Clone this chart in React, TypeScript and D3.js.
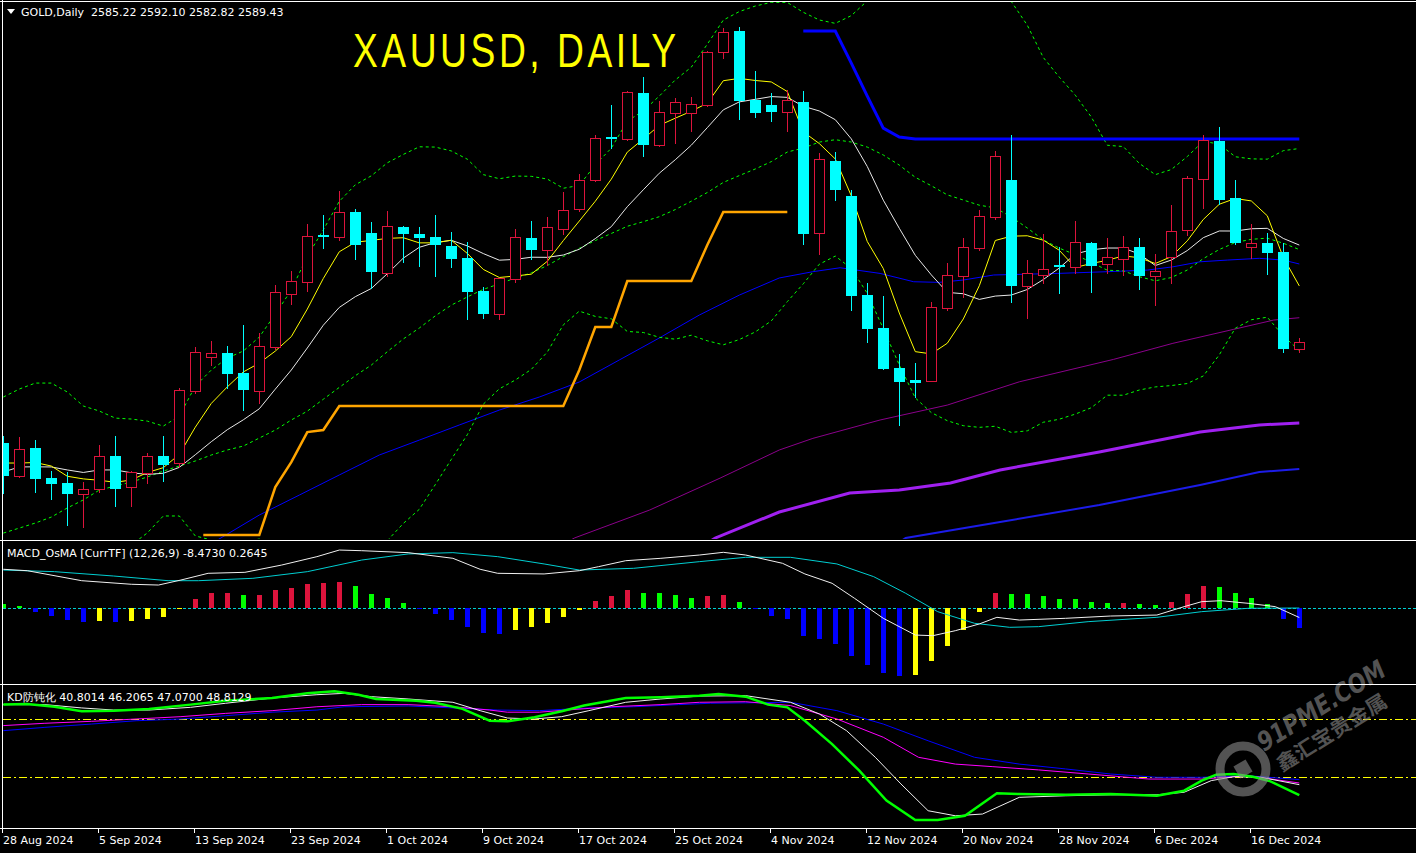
import React from "react";
import * as d3 from "d3";

// ---------- DATA ----------
const opens = [2524.9, 2504.3, 2522.0, 2502.9, 2499.7, 2492.9, 2495.7, 2516.9, 2496.9, 2506.2, 2516.9, 2512.2, 2558.4, 2579.7, 2582.4, 2569.7, 2558.4, 2586.4, 2620.2, 2627.8, 2657.5, 2656.4, 2672.2, 2658.8, 2633.5, 2662.6, 2658.2, 2656.1, 2650.5, 2642.9, 2621.9, 2607.1, 2629.3, 2655.6, 2647.8, 2661.5, 2673.9, 2692.3, 2719.9, 2718.4, 2747.9, 2715.0, 2735.0, 2735.0, 2740.5, 2773.8, 2787.4, 2743.6, 2740.3, 2736.0, 2742.2, 2659.1, 2704.6, 2682.4, 2619.3, 2598.3, 2572.9, 2565.2, 2564.8, 2611.3, 2631.6, 2649.4, 2669.2, 2692.3, 2625.3, 2632.3, 2638.4, 2637.4, 2652.2, 2639.3, 2642.4, 2649.7, 2631.6, 2643.7, 2660.5, 2693.4, 2717.4, 2680.9, 2650.1, 2652.2, 2646.5, 2585.22];
const highs = [2529.6, 2528.8, 2527.0, 2507.3, 2506.9, 2500.3, 2523.9, 2529.6, 2507.1, 2518.8, 2529.6, 2560.0, 2586.2, 2590.1, 2586.9, 2600.2, 2595.0, 2625.7, 2634.6, 2664.5, 2670.3, 2685.5, 2674.1, 2665.8, 2672.8, 2663.3, 2662.6, 2670.3, 2659.2, 2652.9, 2624.4, 2630.0, 2661.3, 2666.4, 2669.0, 2684.9, 2696.4, 2721.2, 2740.3, 2749.2, 2758.1, 2742.8, 2744.7, 2745.2, 2774.6, 2789.1, 2790.1, 2761.9, 2747.9, 2749.8, 2749.2, 2709.7, 2710.4, 2686.2, 2627.0, 2618.7, 2581.8, 2576.0, 2614.9, 2639.7, 2655.6, 2673.4, 2711.0, 2721.2, 2641.6, 2658.0, 2649.7, 2666.4, 2653.1, 2655.6, 2656.9, 2655.6, 2645.4, 2676.6, 2695.1, 2721.2, 2726.3, 2692.5, 2664.3, 2658.6, 2652.2, 2592.10];
const lows = [2493.5, 2503.7, 2493.9, 2489.5, 2473.1, 2471.9, 2493.9, 2485.2, 2485.2, 2499.9, 2501.1, 2510.1, 2556.8, 2575.0, 2560.3, 2546.1, 2550.8, 2584.8, 2613.8, 2622.1, 2649.4, 2654.3, 2642.3, 2623.6, 2631.4, 2640.5, 2637.8, 2631.6, 2637.4, 2604.3, 2604.9, 2604.3, 2627.8, 2642.4, 2638.2, 2658.4, 2672.6, 2691.7, 2712.9, 2718.0, 2708.0, 2714.4, 2716.3, 2723.9, 2739.6, 2770.4, 2731.5, 2732.6, 2730.3, 2723.9, 2651.8, 2645.4, 2679.8, 2609.8, 2589.4, 2572.4, 2536.8, 2554.2, 2564.8, 2609.8, 2618.3, 2648.2, 2667.9, 2615.1, 2604.9, 2626.8, 2620.8, 2633.5, 2621.4, 2633.5, 2632.3, 2623.3, 2613.2, 2627.2, 2657.5, 2674.9, 2677.0, 2651.8, 2643.1, 2632.7, 2583.2, 2582.82];
const closes = [2504.3, 2521.1, 2502.4, 2499.2, 2492.9, 2495.9, 2516.7, 2496.0, 2506.5, 2516.7, 2511.3, 2558.7, 2582.9, 2582.2, 2569.2, 2558.9, 2586.9, 2621.1, 2628.2, 2656.9, 2656.3, 2672.0, 2651.2, 2634.2, 2663.3, 2658.4, 2655.6, 2651.4, 2642.4, 2621.4, 2607.4, 2630.0, 2656.1, 2648.2, 2662.4, 2673.2, 2692.3, 2719.1, 2718.6, 2748.4, 2715.0, 2735.6, 2742.0, 2740.7, 2774.0, 2786.5, 2743.0, 2735.4, 2736.0, 2743.5, 2658.2, 2705.7, 2686.4, 2618.7, 2597.9, 2572.4, 2564.0, 2563.5, 2611.5, 2631.9, 2649.7, 2669.6, 2707.6, 2625.3, 2633.1, 2635.7, 2637.4, 2652.9, 2638.0, 2643.3, 2649.7, 2631.6, 2634.4, 2659.9, 2693.6, 2717.8, 2680.0, 2652.6, 2652.2, 2646.3, 2585.2, 2589.43];

const tickBars = [0, 6, 12, 18, 24, 30, 36, 42, 48, 54, 60, 66, 72, 78];
const tickLabels = ["28 Aug 2024", "5 Sep 2024", "13 Sep 2024", "23 Sep 2024", "1 Oct 2024", "9 Oct 2024", "17 Oct 2024", "25 Oct 2024", "4 Nov 2024", "12 Nov 2024", "20 Nov 2024", "28 Nov 2024", "6 Dec 2024", "16 Dec 2024"];

// visible start of the moving averages / bands (before their windows fill)
const sma5Early = [2512.4, 2512.4, 2512.7, 2510.5];
const sma10Early = [2506.7, 2509.9, 2510.0, 2509.9, 2508.0, 2506.4, 2508.0, 2508.0, 2506.2];
const bbUpperEarly = [2554.4, 2559.5, 2563.3, 2563.3, 2557.6, 2548.7, 2545.5, 2541.0, 2540.4, 2539.1, 2535.9, 2542.3, 2561.4, 2571.6, 2579.2, 2583.7, 2592.6, 2607.2, 2622.5];
const bbMidEarly = [2467.8, 2471.0, 2474.2, 2478.0, 2483.8, 2488.9, 2495.2, 2497.8, 2500.3, 2503.5, 2507.3, 2510.5, 2513.7, 2517.5, 2520.7, 2523.2, 2528.3, 2533.4, 2539.8];

// long moving averages [bar, price]
const maBlueThin: [number, number][] = [[12, 2455], [16, 2479.3], [18.5, 2492.0], [21, 2504.8], [23.5, 2517.5], [26, 2527.0], [28.5, 2536.6], [31, 2546.1], [33.5, 2554.4], [36, 2564.0], [38.5, 2578.0], [41, 2592.0], [43.5, 2606.6], [46, 2619.3], [48.5, 2630.2], [50.6, 2634.2], [52.3, 2636.7], [54.8, 2633.1], [56.9, 2627.8], [58.5, 2627.4], [60, 2628.9], [61.9, 2632.1], [65.9, 2633.1], [69, 2634.2], [71.5, 2635.2], [73.1, 2637.3], [74.8, 2640.5], [76.5, 2641.6], [78.5, 2642.7], [80, 2641.6], [81, 2639.1]];
const maPurpleThin: [number, number][] = [[34.5, 2458], [35.7, 2464.7], [40.4, 2482.5], [44.8, 2502.8], [48.5, 2520.7], [50.6, 2528.1], [54.8, 2539.8], [59, 2549.3], [63.5, 2564.1], [69.4, 2578.4], [73.1, 2588.6], [76.9, 2597.5], [79.4, 2603.4], [81, 2604.9]];
const maPurpleThick: [number, number][] = [[43.5, 2458], [44.5, 2464.7], [48.5, 2481.2], [52.9, 2493.3], [56, 2495.2], [59.2, 2499.7], [62.3, 2508.0], [68.5, 2519.4], [74.8, 2532.1], [78.5, 2536.6], [81, 2537.9]];
const maBlueThick: [number, number][] = [[55.4, 2458], [56.4, 2464.7], [62.3, 2474.8], [68.5, 2485.7], [74.8, 2498.4], [78.5, 2506.7], [81, 2508.6]];

// stop lines [bar, price]
const stopOrange: [number, number][] = [[12.5, 2466.6], [16, 2466.6], [17, 2497.1], [18, 2513.0], [19, 2532.1], [20, 2533.4], [21, 2548.7], [35, 2548.7], [36, 2571.6], [37, 2599.0], [38, 2599.0], [39, 2628.2], [43, 2628.2], [44, 2651.2], [45, 2672.2], [49, 2672.2]];
const stopBlue: [number, number][] = [[50, 2787.4], [52, 2787.4], [53, 2767.0], [54, 2746.0], [55, 2725.6], [56, 2719.9], [57, 2718.6], [81, 2718.6]];

// MACD_OsMA panel
const osma = [4.0, 2.1, -3.0, -6.7, -10.4, -12.2, -11.3, -12.2, -11.3, -9.8, -7.6, -0.5, 8.6, 14.4, 14.5, 12.2, 12.4, 16.8, 18.7, 22.7, 23.6, 24.6, 20.5, 13.5, 9.5, 5.2, -0.3, -4.9, -10.4, -16.8, -22.7, -23.3, -20.0, -16.8, -13.2, -7.6, -1.2, 6.7, 11.3, 16.8, 14.1, 14.0, 12.2, 9.5, 11.3, 12.2, 5.8, -0.9, -6.7, -9.8, -25.1, -28.2, -32.5, -43.5, -52.2, -59.2, -61.9, -61.0, -48.1, -34.3, -20.0, -3.0, 14.1, 13.2, 13.1, 11.3, 8.6, 8.5, 5.8, 4.9, 5.0, 4.0, 3.0, 5.8, 13.2, 20.5, 19.6, 14.1, 9.5, 4.0, -9.8, -17.8];
const macdMain: [number, number][] = [[0, 35.9], [1.5, 34.6], [4.9, 25.4], [8, 22.1], [9.7, 21.4], [11.1, 26.0], [12.8, 32.2], [15.1, 33.1], [17.4, 39.8], [19.6, 47.5], [21, 53.6], [22.4, 53.0], [25.3, 51.2], [28.1, 46.0], [29.8, 35.9], [30.9, 32.2], [33.8, 31.6], [36, 34.6], [37.2, 38.3], [38.9, 43.8], [41.1, 46.0], [43.5, 49.0], [45, 51.5], [46.4, 49.0], [48.7, 41.4], [50.1, 31.6], [51.8, 23.0], [53.2, 9.2], [55, -9.2], [57, -24.6], [58.1, -25.2], [59.5, -20.6], [61, -14.4], [62.1, -8.3], [63.5, -10.8], [66.4, -9.2], [69.2, -7.1], [72.1, -6.2], [73.8, 1.5], [74.9, 6.1], [76.1, 7.0], [77.8, 4.6], [79.5, 1.5], [81, -8.47]];
const macdSignal: [number, number][] = [[0, 35.2], [3.2, 33.7], [6.9, 29.7], [10.3, 25.4], [12.2, 25.4], [15.6, 27.6], [19, 33.7], [22.4, 44.4], [25.3, 50.0], [28.1, 51.2], [30.9, 47.5], [33.8, 40.8], [36, 35.2], [39.4, 36.8], [43.5, 42.9], [46.4, 46.9], [49.2, 46.9], [52.1, 40.8], [54.4, 29.1], [56.4, 13.8], [58.4, -3.1], [60.7, -13.8], [62.9, -17.5], [64.7, -16.9], [67.8, -12.3], [72.1, -8.3], [74.9, -3.1], [77.8, 0], [81, 0.26]];

// KD panel
const kdGreen: [number, number][] = [[0, 87.4], [1.5, 87.7], [3.2, 86.3], [4.9, 84.0], [6.9, 84.3], [9.1, 85.2], [11.7, 87.4], [13.9, 89.4], [16.8, 90.8], [19, 93.2], [20.7, 94.3], [22.2, 92.5], [23.3, 90.3], [25.8, 89.4], [27, 88.4], [28.7, 85.2], [30.4, 79.1], [31.5, 78.8], [33.2, 80.9], [34.9, 84.0], [36.3, 86.9], [38.9, 90.8], [41.1, 91.2], [43.5, 92.0], [44.7, 92.9], [46.4, 91.5], [47.8, 87.4], [49, 86.0], [50.1, 79.1], [51.8, 67.1], [53.5, 53.4], [55.2, 38.0], [57, 28.0], [58.4, 28.0], [60.1, 30.2], [62.1, 41.8], [63.5, 41.4], [66.4, 41.0], [69.2, 41.4], [72.1, 40.5], [73.8, 43.1], [74.9, 48.3], [75.8, 51.3], [76.9, 51.7], [78.1, 50.3], [79.2, 47.9], [81, 40.8]];
const kdWhite: [number, number][] = [[0, 87.4], [2.6, 87.4], [4.9, 85.7], [6.9, 84.6], [9.1, 84.6], [11.7, 86.0], [13.9, 88.1], [16.8, 90.8], [19.6, 92.5], [21.3, 93.2], [23, 91.5], [25.3, 90.3], [28.1, 88.6], [29.8, 84.3], [31.5, 80.5], [33.2, 80.0], [34.9, 81.2], [36.6, 84.3], [38.9, 88.6], [41.1, 90.3], [43.5, 91.8], [46.4, 92.0], [49.2, 88.6], [51, 82.6], [52.7, 74.0], [54.5, 60.3], [56.1, 46.6], [57.8, 32.8], [59.5, 30.2], [61.2, 31.1], [63.5, 39.7], [66.4, 40.5], [69.2, 41.0], [72.1, 41.0], [73.8, 42.3], [75.5, 48.3], [76.9, 50.3], [78.6, 50.0], [81, 46.2]];
const kdMagenta: [number, number][] = [[0, 76.6], [2.6, 77.8], [5.5, 78.8], [8.3, 80.0], [11.1, 81.2], [13.9, 82.9], [16.8, 84.3], [19.6, 86.3], [22.4, 87.4], [25.3, 87.4], [28.1, 86.3], [30.4, 84.6], [31.5, 83.5], [33.5, 83.5], [35.2, 84.6], [38, 86.3], [41.1, 87.4], [43.5, 88.6], [46.4, 88.9], [49.2, 86.9], [52.1, 80.0], [55, 70.6], [57.2, 60.3], [59.5, 56.8], [61.8, 55.5], [64.7, 53.8], [67.8, 51.7], [71.6, 49.1], [74.9, 49.1], [77.8, 50.8], [81, 47.07]];
const kdBlue: [number, number][] = [[0, 74.0], [2.6, 75.7], [5.5, 77.4], [8.3, 79.1], [11.1, 80.0], [13.9, 81.7], [16.8, 83.5], [19.6, 84.6], [21.3, 86.3], [25.3, 86.7], [28.1, 85.7], [30.9, 84.6], [33.5, 84.3], [36.6, 85.7], [39.4, 86.3], [42.2, 87.4], [44.2, 88.1], [49.2, 88.6], [52.1, 84.3], [55, 77.4], [57.8, 68.8], [60.7, 60.3], [63.5, 56.8], [66.4, 54.3], [69.2, 51.7], [72.1, 50.0], [74.9, 50.0], [77.8, 50.8], [81, 48.81]];
const kdLevels = [80, 50];

// ---------- STYLE ----------
const W = 1416;
const H = 853;
const BULL = "#DC143C";
const BEAR = "#00FFFF";
const FONT = "'DejaVu Sans', Verdana, sans-serif";

export default function App() {
  const x = d3.scaleLinear().domain([0, 81]).range([3.3, 1299.3]);
  const yP = d3.scaleLinear().domain([2536.8, 2790.15]).range([424.7, 26.7]);
  const yM = d3.scaleLinear().domain([0, 46]).range([608.3, 558.3]);
  const yK = d3.scaleLinear().domain([50, 80]).range([777.3, 719.0]);

  const sma = (len: number, early: number[]) =>
    closes.map((_, i) => (i < early.length ? early[i] : (d3.mean(closes.slice(i - len + 1, i + 1)) as number)));
  const sma5 = sma(5, sma5Early);
  const sma10 = sma(10, sma10Early);
  const bbMid = sma(20, bbMidEarly);
  const bbUp = closes.map((_, i) => {
    if (i < bbUpperEarly.length) return bbUpperEarly[i];
    const w = closes.slice(i - 19, i + 1);
    const m = d3.mean(w) as number;
    const sd = Math.sqrt(d3.mean(w.map((v) => (v - m) * (v - m))) as number);
    return m + 2 * sd;
  });
  const bbLo = bbMid.map((m, i) => 2 * m - bbUp[i]);

  const priceLine = d3.line<[number, number]>().x((d) => x(d[0])).y((d) => yP(d[1]));
  const macdLine = d3.line<[number, number]>().x((d) => x(d[0])).y((d) => yM(d[1]));
  const kdLine = d3.line<[number, number]>().x((d) => x(d[0])).y((d) => yK(d[1]));
  const series = (arr: number[]) => arr.map((v, i) => [i, v] as [number, number]);

  const histColor = (i: number) => {
    const v = osma[i];
    const prev = i > 0 ? osma[i - 1] : v + 1;
    if (v >= 0) return v > prev ? BULL : "#00FF00";
    return v < prev ? "#0000FF" : "#FFFF00";
  };

  return (
    <svg width={W} height={H} style={{ position: "absolute", left: 0, top: 0, background: "#000" }}>
      <defs>
        <clipPath id="clipMain"><rect x={3} y={2} width={W - 3} height={537} /></clipPath>
        <clipPath id="clipMacd"><rect x={3} y={542} width={W - 3} height={141} /></clipPath>
        <clipPath id="clipKd"><rect x={3} y={686} width={W - 3} height={141} /></clipPath>
      </defs>
      <rect x={0} y={0} width={W} height={H} fill="#000" />

      {/* ---------- MAIN PANEL ---------- */}
      <g clipPath="url(#clipMain)">
        <g transform="translate(353,67) scale(0.76,1)">
          <text x={0} y={0} fill="#FFFF00" fontSize={49} fontFamily="'Liberation Sans',Arial,sans-serif" textLength={323 / 0.76} lengthAdjust="spacing">XAUUSD, DAILY</text>
        </g>

        {/* long MAs */}
        <path d={priceLine(maBlueThick) || ""} fill="none" stroke="#1C1CE8" strokeWidth={2} />
        <path d={priceLine(maPurpleThick) || ""} fill="none" stroke="#A020F0" strokeWidth={3} />
        <path d={priceLine(maPurpleThin) || ""} fill="none" stroke="#8B008B" strokeWidth={1} />
        <path d={priceLine(maBlueThin) || ""} fill="none" stroke="#0000FF" strokeWidth={1} />

        {/* Bollinger bands */}
        {[bbUp, bbMid, bbLo].map((s, k) => (
          <path key={k} d={priceLine(series(s)) || ""} fill="none" stroke="#00FF00" strokeWidth={1} strokeDasharray="3,3" />
        ))}

        {/* stop lines */}
        <path d={priceLine(stopOrange) || ""} fill="none" stroke="#FFA500" strokeWidth={2.5} />
        <path d={priceLine(stopBlue) || ""} fill="none" stroke="#0000FF" strokeWidth={3} />

        {/* short MAs */}
        <path d={priceLine(series(sma10)) || ""} fill="none" stroke="#E8E8E8" strokeWidth={1} />
        <path d={priceLine(series(sma5)) || ""} fill="none" stroke="#FFFF00" strokeWidth={1} />

        {/* candles */}
        {closes.map((c, i) => {
          const o = opens[i];
          const cx = Math.round(x(i));
          const yh = Math.round(yP(highs[i]));
          const yl = Math.round(yP(lows[i]));
          const yo = Math.round(yP(o));
          const yc = Math.round(yP(c));
          const bull = c >= o;
          const col = bull ? BULL : BEAR;
          const top = Math.min(yo, yc);
          const bot = Math.max(yo, yc);
          return (
            <g key={i}>
              <line x1={cx + 0.5} x2={cx + 0.5} y1={yh} y2={yl + 1} stroke={col} strokeWidth={1} />
              {bull ? (
                <rect x={cx - 4.5} y={top + 0.5} width={10} height={Math.max(bot - top, 1)} fill="#000" stroke={col} strokeWidth={1} />
              ) : (
                <rect x={cx - 5} y={top} width={11} height={Math.max(bot - top, 2)} fill={col} />
              )}
            </g>
          );
        })}
      </g>
      <polygon points="7,9 15,9 11,14" fill="#FFFFFF" />
      <text x={21} y={16} fill="#FFFFFF" fontSize={11} fontFamily={FONT} style={{ whiteSpace: "pre" }}>{"GOLD,Daily  2585.22 2592.10 2582.82 2589.43"}</text>

      {/* ---------- MACD PANEL ---------- */}
      <g clipPath="url(#clipMacd)">
        <line x1={3} x2={W} y1={608.5} y2={608.5} stroke="#00CED1" strokeWidth={1} strokeDasharray="3,2" />
        {osma.map((v, i) => {
          const cx = Math.round(x(i));
          const y0 = Math.round(yM(0));
          const y1 = Math.round(yM(v));
          return <rect key={i} x={cx - 2} y={Math.min(y0, y1)} width={5} height={Math.max(Math.abs(y1 - y0), 1)} fill={histColor(i)} />;
        })}
        <path d={macdLine(macdSignal) || ""} fill="none" stroke="#00CED1" strokeWidth={1} />
        <path d={macdLine(macdMain) || ""} fill="none" stroke="#F0F0F0" strokeWidth={1} />
      </g>
      <text x={7} y={557} fill="#FFFFFF" fontSize={11} fontFamily={FONT}>MACD_OsMA [CurrTF] (12,26,9) -8.4730 0.2645</text>

      {/* ---------- KD PANEL ---------- */}
      <g clipPath="url(#clipKd)">
        {kdLevels.map((lv) => (
          <line key={lv} x1={3} x2={W} y1={Math.round(yK(lv)) + 0.5} y2={Math.round(yK(lv)) + 0.5} stroke="#FFFF00" strokeWidth={1} strokeDasharray="8,3,2,3" />
        ))}
        <path d={kdLine(kdBlue) || ""} fill="none" stroke="#0000FF" strokeWidth={1} />
        <path d={kdLine(kdMagenta) || ""} fill="none" stroke="#FF00FF" strokeWidth={1} />
        <path d={kdLine(kdWhite) || ""} fill="none" stroke="#F0F0F0" strokeWidth={1} />
        <path d={kdLine(kdGreen) || ""} fill="none" stroke="#00FF00" strokeWidth={2.5} />
      </g>
      <text x={7} y={700.5} fill="#FFFFFF" fontSize={11} fontFamily={FONT}>KD防钝化 40.8014 46.2065 47.0700 48.8129</text>

      {/* watermark */}
      <g opacity={0.6}>
        <circle cx={1243} cy={769} r={23} fill="none" stroke="#8a8a8a" strokeWidth={9} />
        <rect x={1236} y={762} width={14} height={14} fill="#8a8a8a" transform="rotate(-30 1243 769)" />
        <text transform="translate(1264,752) rotate(-32)" fill="#8a8a8a" fontSize={26} fontWeight="bold" fontStyle="italic" fontFamily="'DejaVu Sans',sans-serif" textLength={146} lengthAdjust="spacingAndGlyphs">91PME.COM</text>
        <text transform="translate(1282,772) rotate(-32)" fill="#8a8a8a" fontSize={20} fontWeight="bold" fontFamily="'Noto Sans CJK SC',sans-serif" textLength={126} lengthAdjust="spacingAndGlyphs">鑫汇宝贵金属</text>
      </g>

      {/* frame */}
      <line x1={2.5} x2={2.5} y1={0} y2={829} stroke="#FFFFFF" strokeWidth={1} />
      <line x1={0} x2={W} y1={1.5} y2={1.5} stroke="#FFFFFF" strokeWidth={1} />
      <line x1={0} x2={W} y1={540.5} y2={540.5} stroke="#FFFFFF" strokeWidth={1} />
      <line x1={0} x2={W} y1={684.5} y2={684.5} stroke="#FFFFFF" strokeWidth={1} />
      <line x1={0} x2={W} y1={828.5} y2={828.5} stroke="#FFFFFF" strokeWidth={1} />

      {/* time axis */}
      {tickBars.map((b, k) => {
        const tx = Math.round(x(b)) - 1;
        return (
          <g key={b}>
            <line x1={tx + 0.5} x2={tx + 0.5} y1={829} y2={833} stroke="#FFFFFF" strokeWidth={1} />
            <text x={tx + 1} y={844} fill="#FFFFFF" fontSize={11} fontFamily={FONT}>{tickLabels[k]}</text>
          </g>
        );
      })}
    </svg>
  );
}
